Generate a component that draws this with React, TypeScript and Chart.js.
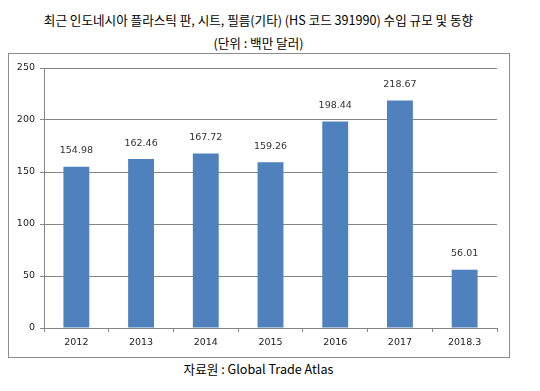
import React, { useEffect, useRef } from "react";
import { Chart, registerables } from "chart.js";

Chart.register(...registerables);

const categories = ["2012", "2013", "2014", "2015", "2016", "2017", "2018.3"];
const values = [154.98, 162.46, 167.72, 159.26, 198.44, 218.67, 56.01];
const yTicks = [0, 50, 100, 150, 200, 250];

const titleLine1 = "최근 인도네시아 플라스틱 판, 시트, 필름(기타) (HS 코드 391990) 수입 규모 및 동향";
const titleLine2 = "(단위 : 백만 달러)";
const sourceText = "자료원 : Global Trade Atlas";

const labelFont = "'DejaVu Sans', sans-serif";
const koFont = "'Noto Sans CJK KR', 'Noto Sans', sans-serif";

const valueLabels = {
  id: "valueLabels",
  afterDatasetsDraw(chart: any) {
    const ctx = chart.ctx;
    const meta = chart.getDatasetMeta(0);
    ctx.save();
    ctx.font = `9.5px ${labelFont}`;
    ctx.fillStyle = "#333333";
    ctx.textAlign = "center";
    ctx.textBaseline = "middle";
    meta.data.forEach((bar: any, i: number) => {
      ctx.fillText(values[i].toFixed(2), bar.x, bar.y - 16);
    });
    ctx.restore();
  },
};

const textStyle = {
  position: "absolute" as const,
  left: 8,
  width: 501,
  textAlign: "center" as const,
  fontFamily: koFont,
  fontSize: 12.6,
  lineHeight: "18px",
  color: "#000",
  whiteSpace: "nowrap" as const,
};

export default function App() {
  const ref = useRef<HTMLCanvasElement>(null);
  useEffect(() => {
    document.body.style.margin = "0";
    const chart = new Chart(ref.current!, {
      type: "bar",
      data: {
        labels: categories,
        datasets: [
          {
            data: values,
            backgroundColor: "#4F81BD",
            borderWidth: 0,
            categoryPercentage: 1,
            barPercentage: 0.4,
          },
        ],
      },
      options: {
        animation: false,
        responsive: false,
        maintainAspectRatio: false,
        layout: { padding: { left: 0, top: 14, right: 12, bottom: 0 } },
        plugins: {
          legend: { display: false },
          tooltip: { enabled: false },
          title: { display: false },
        },
        scales: {
          x: {
            afterFit: (s: any) => {
              s.height = 29;
            },
            grid: {
              display: true,
              drawOnChartArea: false,
              drawTicks: true,
              tickLength: 4,
              color: "#868686",
              offset: true,
            },
            border: { display: true, color: "#868686", width: 1 },
            ticks: {
              color: "#222222",
              font: { family: labelFont, size: 9.5 },
              padding: 5,
              maxRotation: 0,
            },
          },
          y: {
            min: 0,
            max: 250,
            afterFit: (s: any) => {
              s.width = 35;
            },
            afterBuildTicks: (s: any) => {
              s.ticks = yTicks.map((v) => ({ value: v }));
            },
            grid: {
              color: "#868686",
              lineWidth: 1,
              drawTicks: true,
              tickLength: 4,
            },
            border: { display: true, color: "#868686", width: 1 },
            ticks: {
              color: "#222222",
              font: { family: labelFont, size: 9.5 },
              padding: 5,
            },
          },
        },
      },
      plugins: [valueLabels],
    });
    return () => chart.destroy();
  }, []);

  return (
    <div style={{ position: "absolute", left: 0, top: 0, width: 540, height: 391, background: "#fff" }}>
      <div style={{ ...textStyle, top: 11 }}>{titleLine1}</div>
      <div style={{ ...textStyle, top: 34 }}>{titleLine2}</div>
      <div
        style={{
          position: "absolute",
          left: 8,
          top: 53,
          width: 500,
          height: 303,
          border: "1px solid #8c8c8c",
        }}
      >
        <canvas ref={ref} width={500} height={303} style={{ display: "block", width: 500, height: 303 }} />
      </div>
      <div style={{ ...textStyle, top: 360 }}>{sourceText}</div>
    </div>
  );
}
